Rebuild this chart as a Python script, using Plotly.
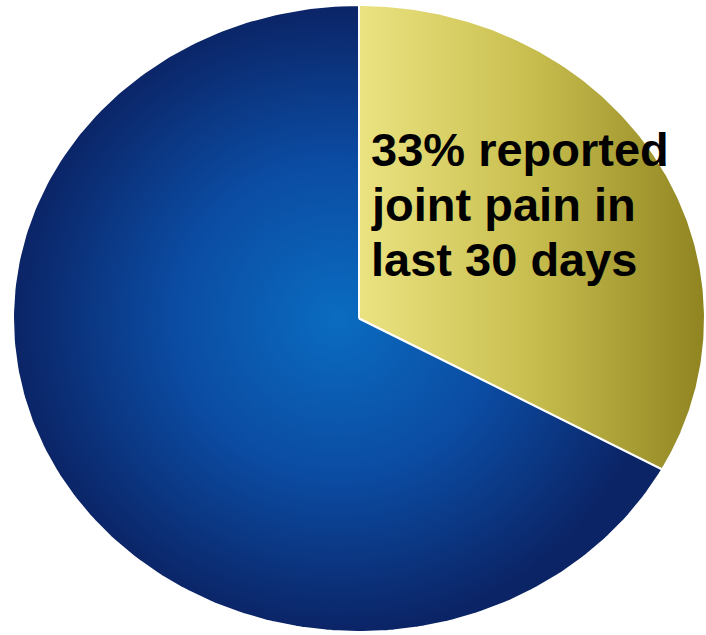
import numpy as np
import plotly.graph_objects as go

labels = ["Reported joint pain in last 30 days", "No joint pain"]
values = [33, 67]
text_lines = ["33% reported", "joint pain in", "last 30 days"]

gradients = [
    dict(type="horizontal", colorscale=[[0, "#ebe381"], [0.5, "#c8be4f"], [1, "#8f8420"]]),
    dict(type="radial", colorscale=[[0, "#0a6cc0"], [0.5, "#0b4ca3"], [1, "#0b2466"]]),
]
line_colors = ["#b8ae3c", "#0b3a8a"]

fig = go.Figure()
total = sum(values)
start = 0.0
for lab, val, grad, lc in zip(labels, values, gradients, line_colors):
    frac0 = start / total
    frac1 = (start + val) / total
    t = np.linspace(frac0, frac1, 240) * 2 * np.pi
    xs = np.concatenate([[0], np.sin(t), [0]])
    ys = np.concatenate([[0], np.cos(t), [0]])
    fig.add_trace(go.Scatter(
        x=xs, y=ys, mode="lines", fill="toself",
        fillcolor=lc, fillgradient=grad,
        line=dict(color="white", width=2),
        name=lab, hoverinfo="name", showlegend=False,
    ))
    start += val

W, H = 706, 635
cx, cy, rx, ry = 359, 318.5, 346, 313.5
fig.update_layout(
    width=W, height=H,
    margin=dict(l=0, r=0, t=0, b=0),
    paper_bgcolor="white", plot_bgcolor="white",
    xaxis=dict(range=[-cx / rx, (W - cx) / rx], visible=False, fixedrange=True),
    yaxis=dict(range=[-(H - cy) / ry, cy / ry], visible=False, fixedrange=True),
)

line_px = [149, 204, 260]
for txt, py in zip(text_lines, line_px):
    fig.add_annotation(
        text="<b>" + txt + "</b>", x=369 / W, y=1 - py / H,
        xref="paper", yref="paper", xanchor="left", yanchor="middle",
        showarrow=False, align="left",
        font=dict(family="Arial, Liberation Sans, sans-serif", size=47, color="black"),
    )

fig.write_html(
    "out.html",
    config={"displayModeBar": False},
    post_script="document.body.style.margin='0';document.body.style.overflow='hidden';",
)
